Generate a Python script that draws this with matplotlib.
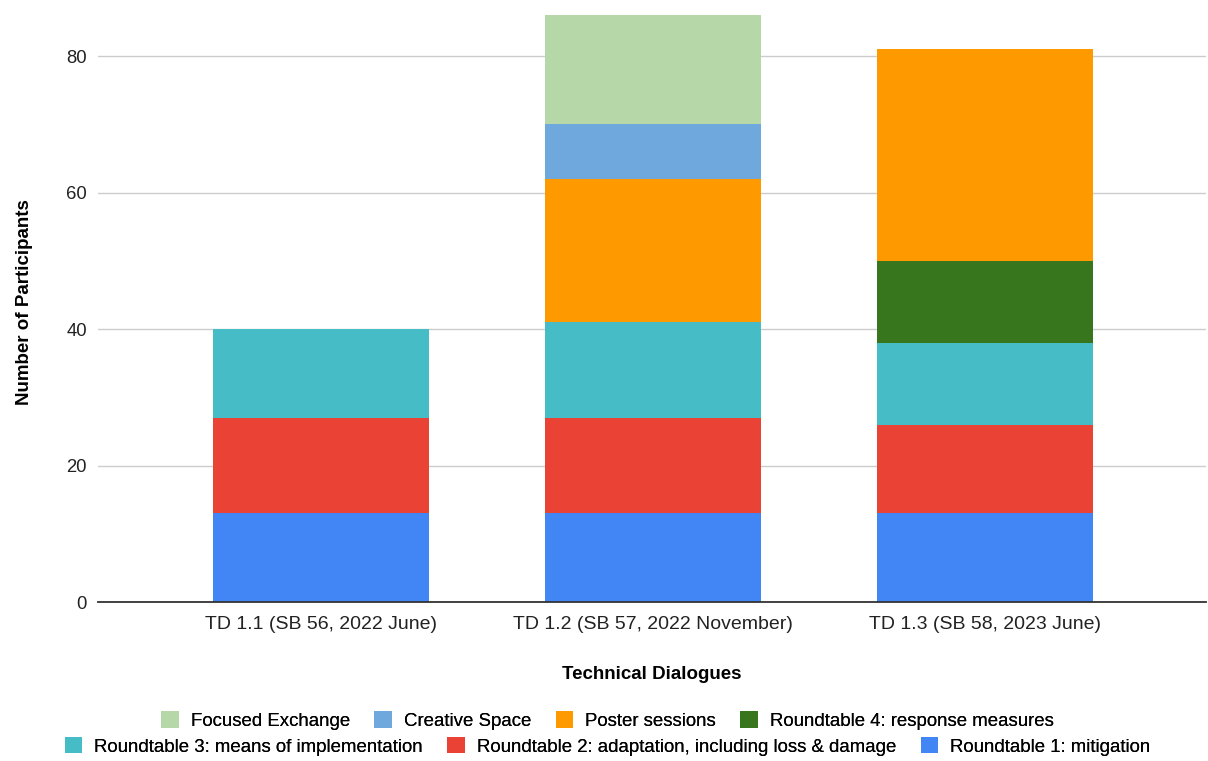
import numpy as np
import matplotlib.pyplot as plt
from matplotlib.patches import Patch

plt.rcParams['font.family'] = ['Liberation Sans', 'DejaVu Sans']

categories = ['TD 1.1 (SB 56, 2022 June)', 'TD 1.2 (SB 57, 2022 November)', 'TD 1.3 (SB 58, 2023 June)']
rt1 = [13, 13, 13]
rt2 = [14, 14, 13]
rt3 = [13, 14, 12]
rt4 = [0, 0, 12]
poster = [0, 21, 31]
creative = [0, 8, 0]
focused = [0, 16, 0]

series = [
    ('Roundtable 1: mitigation', rt1, '#4285F4'),
    ('Roundtable 2: adaptation, including loss & damage', rt2, '#EA4335'),
    ('Roundtable 3: means of implementation', rt3, '#46BDC6'),
    ('Roundtable 4: response measures', rt4, '#38761D'),
    ('Poster sessions', poster, '#FF9900'),
    ('Creative Space', creative, '#6FA8DC'),
    ('Focused Exchange', focused, '#B6D7A8'),
]

dpi = 100
fig = plt.figure(figsize=(1208/dpi, 761/dpi), dpi=dpi)
ax = fig.add_axes([0.0811, 0.2089, 0.9172, 0.789])

x = np.arange(len(categories))
bottom = np.zeros(len(categories))
for name, vals, col in series:
    ax.bar(x, vals, 0.65, bottom=bottom, color=col, label=name, zorder=2)
    bottom += np.array(vals)

ax.set_xlim(-0.672, 2.666)
ax.set_ylim(0, 88)
ax.set_yticks([0, 20, 40, 60, 80])
ax.set_xticks(x)
ax.set_xticklabels(categories)
ax.tick_params(axis='both', length=0, colors='#222222')
ax.tick_params(axis='y', pad=8, labelsize=13.3)
ax.tick_params(axis='x', pad=10, labelsize=14)
ax.yaxis.grid(True, color='#cccccc', linewidth=1, zorder=0)
for s in ['top', 'right', 'left']:
    ax.spines[s].set_visible(False)
ax.spines['bottom'].set_color('#333333')
ax.spines['bottom'].set_linewidth(1.3)
ax.spines['bottom'].set_zorder(3)

ax.set_xlabel('Technical Dialogues', fontsize=13.5, fontweight='bold', labelpad=24)
ax.set_ylabel('Number of Participants', fontsize=13.5, fontweight='bold', labelpad=24)

cols = {n: c for n, v, c in series}
row1 = ['Focused Exchange', 'Creative Space', 'Poster sessions', 'Roundtable 4: response measures']
row2 = ['Roundtable 3: means of implementation', 'Roundtable 2: adaptation, including loss & damage',
        'Roundtable 1: mitigation']
for names, ypos in [(row1, 0.053), (row2, 0.019)]:
    handles = [Patch(facecolor=cols[n], label=n) for n in names]
    leg = fig.legend(handles=handles, loc='center', bbox_to_anchor=(0.503, ypos), ncol=len(names),
                     frameon=False, fontsize=13.4, handlelength=0.95, handleheight=0.95,
                     columnspacing=1.3, handletextpad=0.65, borderaxespad=0)
    fig.add_artist(leg)

plt.savefig('out.png', dpi=dpi)
